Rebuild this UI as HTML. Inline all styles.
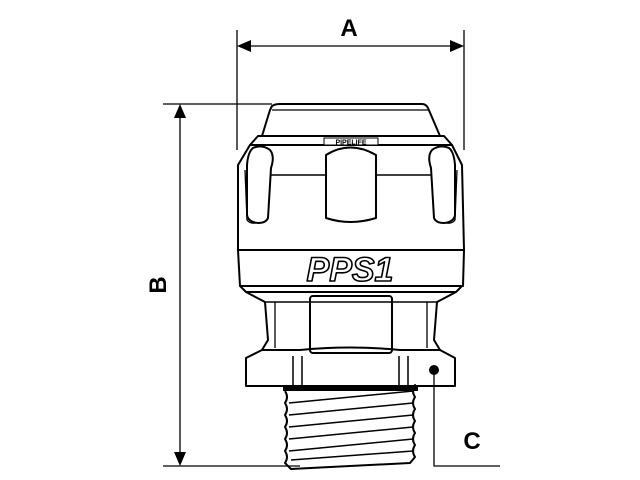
<!DOCTYPE html>
<html><head><style>html,body{margin:0;padding:0;background:#fff}svg{display:block}</style></head>
<body>
<svg width="640" height="480" viewBox="0 0 640 480" xmlns="http://www.w3.org/2000/svg" fill="none" stroke="#000" stroke-width="2" stroke-linejoin="round">
<!-- A dimension -->
<line x1="237" y1="30" x2="237" y2="150" stroke-width="1.3"/>
<line x1="464" y1="30" x2="464" y2="150" stroke-width="1.3"/>
<line x1="250" y1="46" x2="451" y2="46" stroke-width="1.3"/>
<polygon points="237,46 251,40 251,52" fill="#000" stroke="none"/>
<polygon points="464,46 450,40 450,52" fill="#000" stroke="none"/>
<text x="349" y="36" font-family="Liberation Sans, sans-serif" font-weight="bold" font-size="24" text-anchor="middle" fill="#000" stroke="none">A</text>
<!-- B dimension -->
<line x1="163" y1="104" x2="272" y2="104" stroke-width="1.3"/>
<line x1="163" y1="466" x2="300" y2="466" stroke-width="1.3"/>
<line x1="180" y1="118" x2="180" y2="452" stroke-width="1.3"/>
<polygon points="180,104 174,118 186,118" fill="#000" stroke="none"/>
<polygon points="180,466 174,452 186,452" fill="#000" stroke="none"/>
<text x="0" y="0" transform="translate(166,285) rotate(-90)" font-family="Liberation Sans, sans-serif" font-weight="bold" font-size="24" text-anchor="middle" fill="#000" stroke="none">B</text>
<!-- C -->
<polyline points="434,370 434,466 500,466" stroke-width="1.3"/>
<circle cx="434" cy="370" r="5" fill="#000" stroke="none"/>
<text x="472" y="449" font-family="Liberation Sans, sans-serif" font-weight="bold" font-size="24" text-anchor="middle" fill="#000" stroke="none">C</text>
<!-- cap -->
<path d="M272,106 Q275,104 280,104 L422,104 Q426,104 428,108 L440,136 L262,136 L270,110 Z"/>
<line x1="272" y1="110" x2="428" y2="110" stroke-width="1.3"/>
<path d="M258,136 L444,136 L452,145 L250,145 Z"/>
<!-- body -->
<path d="M250,145 L452,145 L462,165 L464,250 L463,286 L240,286 L238,250 L238,165 Z"/>
<line x1="238" y1="250" x2="464" y2="250"/>
<line x1="270" y1="175" x2="326" y2="175" stroke-width="1.5"/>
<line x1="376" y1="175" x2="432" y2="175" stroke-width="1.5"/>
<rect x="324" y="138" width="54" height="7" fill="#fff" stroke="#000" stroke-width="1"/>
<text x="351" y="144.5" font-family="Liberation Sans, sans-serif" font-size="7" font-weight="bold" text-anchor="middle" fill="#000" stroke="none">PIPELIFE</text>
<!-- tabs -->
<path d="M253,148 Q262,144 270,150 Q275,156 271,168 L268,218 Q266,223 258,223 Q248,222 247,215 L247,165 Q248,152 253,148 Z" fill="#fff"/>
<path d="M245,170 L247,220 Q250,224 256,223" stroke-width="1.3"/>
<path d="M326,155 Q350,140 376,155 L376,218 Q350,226 326,218 Z" fill="#fff"/>
<path d="M449,148 Q440,144 432,150 Q427,156 431,168 L434,218 Q436,223 444,223 Q454,222 455,215 L455,165 Q454,152 449,148 Z" fill="#fff"/>
<path d="M457,170 L455,220 Q452,224 446,223" stroke-width="1.3"/>
<text x="350" y="281" font-family="Liberation Sans, sans-serif" font-weight="bold" font-style="italic" font-size="34" text-anchor="middle" fill="#fff" stroke="#000" stroke-width="1.6">PPS1</text>
<!-- neck -->
<path d="M240,286 L246,292 L456,292 L462,286" />
<path d="M246,292 L265,302 L268,340 L262,350 M456,292 L437,302 L434,340 L440,350"/>
<line x1="265" y1="302" x2="437" y2="302" stroke-width="1.5"/>
<line x1="275" y1="302" x2="275" y2="348" stroke-width="1.3"/>
<line x1="427" y1="302" x2="427" y2="348" stroke-width="1.3"/>
<rect x="310" y="296" width="82" height="57" rx="3"/>
<!-- hex -->
<path d="M246,358 L262,350 L300,350 Q350,345 400,350 L440,350 L455,358 L455,386 L246,386 Z"/>
<line x1="293" y1="356" x2="293" y2="386" stroke-width="1.5"/>
<line x1="302" y1="356" x2="302" y2="386" stroke-width="1.5"/>
<line x1="399" y1="356" x2="399" y2="386" stroke-width="1.5"/>
<line x1="408" y1="356" x2="408" y2="386" stroke-width="1.5"/>
<!-- thread -->
<rect x="283" y="386" width="135" height="5" fill="#000" stroke="none"/>
<path d="M285,391 q4,6 0,12 q4,6 0,12 q4,6 0,12 q4,6 0,12 q4,6 0,12 q4,6 0,12 l6,6 L410,463 l5,-6 q-4,-6 0,-12 q-4,-6 0,-12 q-4,-6 0,-12 q-4,-6 0,-12 q-4,-6 0,-12 q-4,-6 0,-12 L415,391"/>
<g stroke-width="1.5">
<line x1="289" y1="403" x2="413" y2="391"/>
<line x1="289" y1="415" x2="413" y2="403"/>
<line x1="289" y1="427" x2="413" y2="415"/>
<line x1="289" y1="439" x2="413" y2="427"/>
<line x1="289" y1="451" x2="413" y2="439"/>
<line x1="291" y1="460" x2="413" y2="451"/>
</g>
</svg>
</body></html>
